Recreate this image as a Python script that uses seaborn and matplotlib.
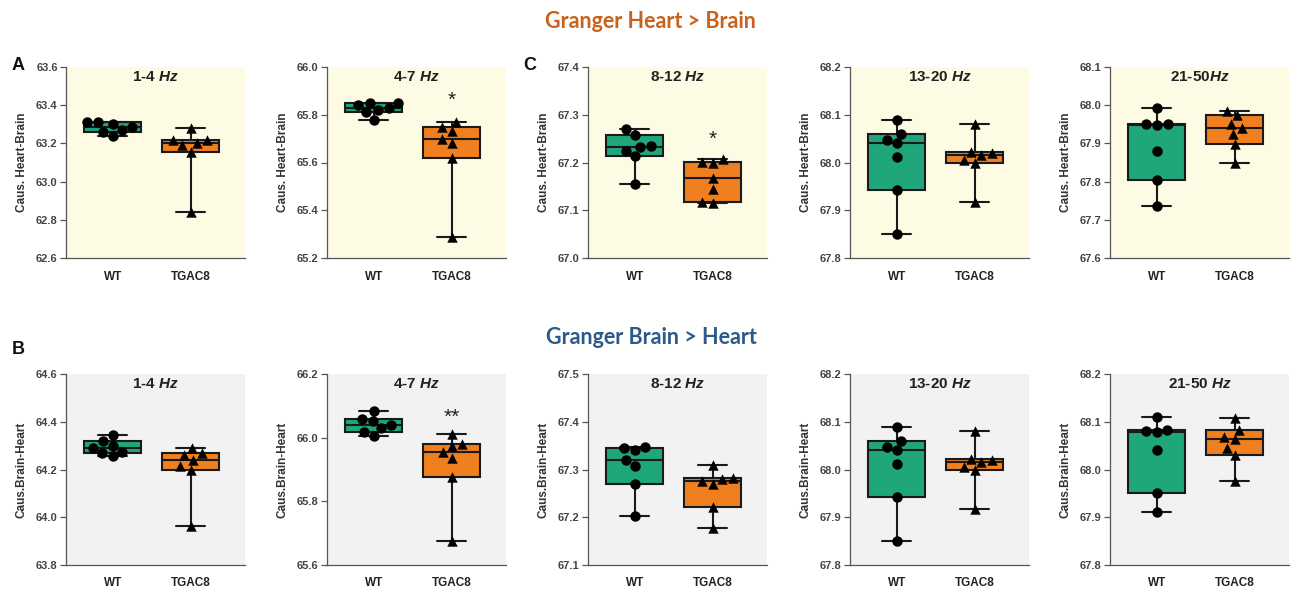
import numpy as np
import pandas as pd
import matplotlib
matplotlib.use('Agg')
import matplotlib.pyplot as plt
import seaborn as sns

# ---- data ----
groups = ['WT', 'TGAC8']
hb_titles = ['1-4 $\\mathit{Hz}$', '4-7 $\\mathit{Hz}$', '8-12 $\\mathit{Hz}$',
             '13-20 $\\mathit{Hz}$', '21-50$\\mathit{Hz}$']
bh_titles = ['1-4 $\\mathit{Hz}$', '4-7 $\\mathit{Hz}$', '8-12 $\\mathit{Hz}$',
             '13-20 $\\mathit{Hz}$', '21-50 $\\mathit{Hz}$']

# Granger Heart > Brain
hb_wt = [
    [63.24, 63.26, 63.27, 63.285, 63.30, 63.31, 63.31],
    [65.78, 65.81, 65.82, 65.83, 65.84, 65.85, 65.85],
    [67.155, 67.213, 67.225, 67.232, 67.235, 67.258, 67.27],
    [67.85, 67.943, 68.012, 68.04, 68.048, 68.06, 68.09],
    [67.737, 67.805, 67.88, 67.948, 67.95, 67.952, 67.993],
]
hb_tg = [
    [62.84, 63.155, 63.19, 63.20, 63.22, 63.22, 63.28],
    [65.29, 65.62, 65.68, 65.70, 65.73, 65.75, 65.77],
    [67.115, 67.117, 67.145, 67.168, 67.20, 67.201, 67.207],
    [67.917, 67.998, 68.005, 68.015, 68.02, 68.022, 68.08],
    [67.85, 67.898, 67.925, 67.94, 67.952, 67.975, 67.985],
]
# Granger Brain > Heart
bh_wt = [
    [64.255, 64.268, 64.275, 64.29, 64.30, 64.318, 64.345],
    [66.005, 66.018, 66.03, 66.04, 66.052, 66.058, 66.085],
    [67.203, 67.27, 67.308, 67.32, 67.34, 67.345, 67.347],
    [67.85, 67.943, 68.012, 68.04, 68.048, 68.06, 68.09],
    [67.91, 67.95, 68.04, 68.078, 68.08, 68.082, 68.11],
]
bh_tg = [
    [63.965, 64.198, 64.215, 64.24, 64.262, 64.268, 64.292],
    [65.675, 65.878, 65.935, 65.955, 65.975, 65.98, 66.012],
    [67.178, 67.222, 67.27, 67.275, 67.28, 67.283, 67.31],
    [67.917, 67.998, 68.005, 68.015, 68.02, 68.022, 68.08],
    [67.975, 68.03, 68.045, 68.063, 68.068, 68.083, 68.107],
]

hb_ylims = [(62.6, 63.6), (65.2, 66.0), (67.0, 67.4), (67.8, 68.2), (67.6, 68.1)]
bh_ylims = [(63.8, 64.6), (65.6, 66.2), (67.1, 67.5), (67.8, 68.2), (67.8, 68.2)]
hb_steps = [0.2, 0.2, 0.1, 0.1, 0.1]
bh_steps = [0.2, 0.2, 0.1, 0.1, 0.1]

# significance marks over TGAC8
hb_stars = ['', '*', '*', '', '']
hb_star_y = [None, 65.86, 67.248, None, None]
bh_stars = ['', '**', '', '', '']
bh_star_y = [None, 66.065, None, None, None]

palette = {'WT': '#1fa67a', 'TGAC8': '#f07f1f'}
markers = {'WT': 'o', 'TGAC8': '^'}

sns.set_style('ticks')
plt.rcParams['font.family'] = ['Liberation Sans', 'DejaVu Sans']
plt.rcParams['mathtext.fontset'] = 'custom'
plt.rcParams['mathtext.it'] = 'Liberation Sans:italic:bold'
plt.rcParams['mathtext.rm'] = 'Liberation Sans:bold'

W, H = 1291, 590
fig = plt.figure(figsize=(W / 100, H / 100), dpi=100)


def px_axes(left, top, width, height):
    return fig.add_axes([left / W, 1 - (top + height) / H, width / W, height / H])


def draw_panel(ax, wt, tg, ylim, step, title, ylabel, face, star, star_y):
    df = pd.DataFrame({'group': ['WT'] * len(wt) + ['TGAC8'] * len(tg),
                       'value': wt + tg})
    # Prism-style box: quartiles by the (n+1)p rule, whiskers min..max
    rows = []
    for g, vals in zip(groups, [wt, tg]):
        q1, med, q3 = np.percentile(vals, [25, 50, 75], method='weibull')
        for v in [min(vals), q1, q1, med, q3, q3, max(vals)]:
            rows.append((g, v))
    box_df = pd.DataFrame(rows, columns=['group', 'value'])

    sns.boxplot(data=box_df, x='group', y='value', hue='group', order=groups,
                hue_order=groups, palette=palette, saturation=1, width=0.74,
                whis=(0, 100), showfliers=False, linecolor='#1a1a1a',
                linewidth=1.5, legend=False, ax=ax)
    for g in groups:
        sns.swarmplot(data=df[df['group'] == g], x='group', y='value', order=groups,
                      color='black', marker=markers[g], size=7.5, ax=ax, zorder=5)

    ax.set_facecolor(face)
    ax.set_xlim(-0.6, 1.7)
    ax.set_ylim(*ylim)
    ticks = np.arange(ylim[0], ylim[1] + step / 2, step)
    ax.set_yticks(ticks)
    ax.set_yticklabels([f'{t:.1f}' for t in ticks], fontsize=8,
                       fontweight='bold', color='#444444')
    ax.set_xticks([0, 1])
    ax.set_xticklabels(groups, fontsize=8.5, fontweight='bold', color='#222222')
    ax.tick_params(axis='x', length=0, pad=9)
    ax.tick_params(axis='y', length=4, width=0.9, color='#555555', pad=2)
    ax.set_xlabel('')
    ax.set_ylabel(ylabel, fontsize=8.5, fontweight='bold', color='#333333', labelpad=6)
    for s in ['top', 'right']:
        ax.spines[s].set_visible(False)
    for s in ['left', 'bottom']:
        ax.spines[s].set_color('#555555')
        ax.spines[s].set_linewidth(0.9)
    ax.text(0.5, 0.95, title, transform=ax.transAxes, ha='center', va='center',
            fontsize=11, fontweight='bold', color='#222222')
    if star:
        ax.text(1, star_y, star, ha='center', va='center', fontsize=15, color='#222222')


lefts = [66, 327, 588, 850, 1110]
for i in range(5):
    ax = px_axes(lefts[i], 67, 179, 191)
    draw_panel(ax, hb_wt[i], hb_tg[i], hb_ylims[i], hb_steps[i], hb_titles[i],
               'Caus. Heart-Brain', '#fdfbe3', hb_stars[i], hb_star_y[i])
    ax = px_axes(lefts[i], 374, 179, 191)
    draw_panel(ax, bh_wt[i], bh_tg[i], bh_ylims[i], bh_steps[i], bh_titles[i],
               'Caus.Brain-Heart', '#f2f2f2', bh_stars[i], bh_star_y[i])

fig.text(650 / W, 1 - 22 / H, 'Granger Heart > Brain', ha='center', va='center',
         fontsize=15.5, fontweight='bold', color='#c8621c', family=['Lato', 'DejaVu Sans'])
fig.text(651 / W, 1 - 338 / H, 'Granger Brain > Heart', ha='center', va='center',
         fontsize=15.5, fontweight='bold', color='#2c5a8a', family=['Lato', 'DejaVu Sans'])
for letter, x, y in [('A', 18, 66), ('C', 530, 66), ('B', 18, 350)]:
    fig.text(x / W, 1 - y / H, letter, ha='center', va='center', fontsize=13,
             fontweight='bold', color='#111111')

fig.savefig('out.png', dpi=100)
